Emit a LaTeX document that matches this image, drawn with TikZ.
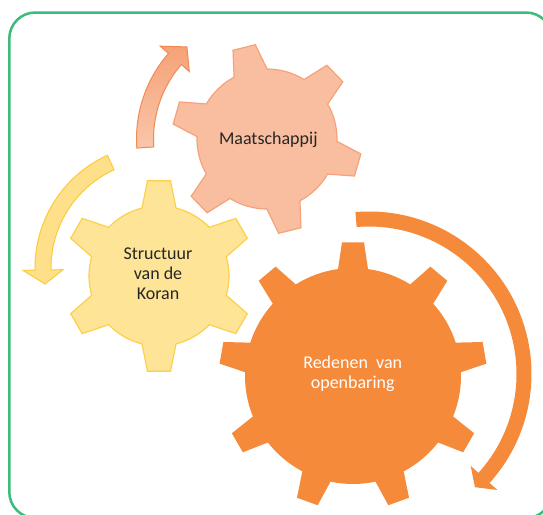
\documentclass[tikz,border=0pt]{standalone}
\usepackage{fontspec}
\setmainfont{Carlito}
\definecolor{frameGreen}{HTML}{3DBB7A}
\definecolor{maatFill}{HTML}{F9BE9F}
\definecolor{maatDraw}{HTML}{F5A27A}
\definecolor{yelFill}{HTML}{FEE497}
\definecolor{yelDraw}{HTML}{FDD04A}
\definecolor{bigFill}{HTML}{F68A3B}
\definecolor{salTop}{HTML}{F6A277}
\definecolor{salBot}{HTML}{F9C6AA}
\definecolor{salDraw}{HTML}{F28A55}
\definecolor{yelArrFill}{HTML}{FEE08A}
\definecolor{yelArrDraw}{HTML}{FDCB35}
\definecolor{darkText}{HTML}{262626}
% #1 n, #2 n-1, #3 rotation, #4 outer radius, #5 body radius, #6 tip half-angle, #7 base half-angle
\newcommand\gearpath[7]{%
  ({#3-#7}:#5)
  \foreach \k in {0,...,#2}{
    -- ({#3+\k*360/#1-#7}:#5) -- ({#3+\k*360/#1-#6}:#4)
    -- ({#3+\k*360/#1+#6}:#4) -- ({#3+\k*360/#1+#7}:#5)
    arc[start angle={#3+\k*360/#1+#7}, end angle={#3+(\k+1)*360/#1-#7}, radius=#5]
  } -- cycle}
% #1 start angle, #2 end angle, #3 r in, #4 r out, #5 wing in, #6 wing out, #7 tip angle, #8 tip radius
\newcommand\arcarrow[8]{%
  (#1:#4) arc[start angle=#1, end angle=#2, radius=#4] -- (#2:#6) -- (#7:#8)
  -- (#2:#5) -- (#2:#3) arc[start angle=#2, end angle=#1, radius=#3] -- cycle}
\begin{document}
\begin{tikzpicture}[x=1pt,y=1pt,
  gtext/.style={font=\fontsize{18}{20}\selectfont, align=center, inner sep=0pt, text=darkText},
  wtext/.style={gtext, text=white},
  framestyle/.style={draw=frameGreen, line width=2.5pt, rounded corners=26pt}]
\useasboundingbox (0,0) rectangle (543,-514);
\clip (0,0) rectangle (543,-514);
\fill[white] (0,0) rectangle (543,-514);
\draw[framestyle] (9.3,-12.5) rectangle (552,-518);

% arrows
\begin{scope}[shift={(267,-139)}]
  \path[draw=salDraw, line width=1pt, top color=salTop, bottom color=salBot]
    \arcarrow{184}{139}{113.5pt}{130.5pt}{103pt}{141.5pt}{131}{122pt};
\end{scope}
\begin{scope}[shift={(159,-268)}]
  \path[draw=yelArrDraw, line width=1pt, fill=yelArrFill]
    \arcarrow{114.6}{181}{108pt}{124pt}{96pt}{136pt}{188}{115pt};
\end{scope}
\begin{scope}[shift={(369,-374)}]
  \path[fill=bigFill]
    \arcarrow{94.8}{-42.1}{147.5pt}{162.5pt}{137pt}{173pt}{-46.9}{155pt};
\end{scope}

% gears
\begin{scope}[shift={(267,-139)}]
  \path[draw=maatDraw, line width=1.2pt, fill=maatFill]
    \gearpath{6}{5}{104}{95pt}{70pt}{6.95}{14.06};
\end{scope}
\begin{scope}[shift={(159,-276)}]
  \path[draw=yelDraw, line width=1.2pt, fill=yelFill]
    \gearpath{6}{5}{90}{96pt}{70pt}{6.88}{14.06};
\end{scope}
\begin{scope}[shift={(353,-376)}]
  \path[fill=bigFill]
    \gearpath{9}{8}{90}{134pt}{108pt}{4.71}{7.98};
\end{scope}

% labels
\node[gtext, anchor=base] (maat) at (268.3,-144.3) {Maatschappij};
\node[gtext] (koran) at (158,-273.8) {Structuur\\van de\\Koran};
\node[wtext] (reden) at (352.7,-373.7) {Redenen~ van\\openbaring};
\end{tikzpicture}
\end{document}
